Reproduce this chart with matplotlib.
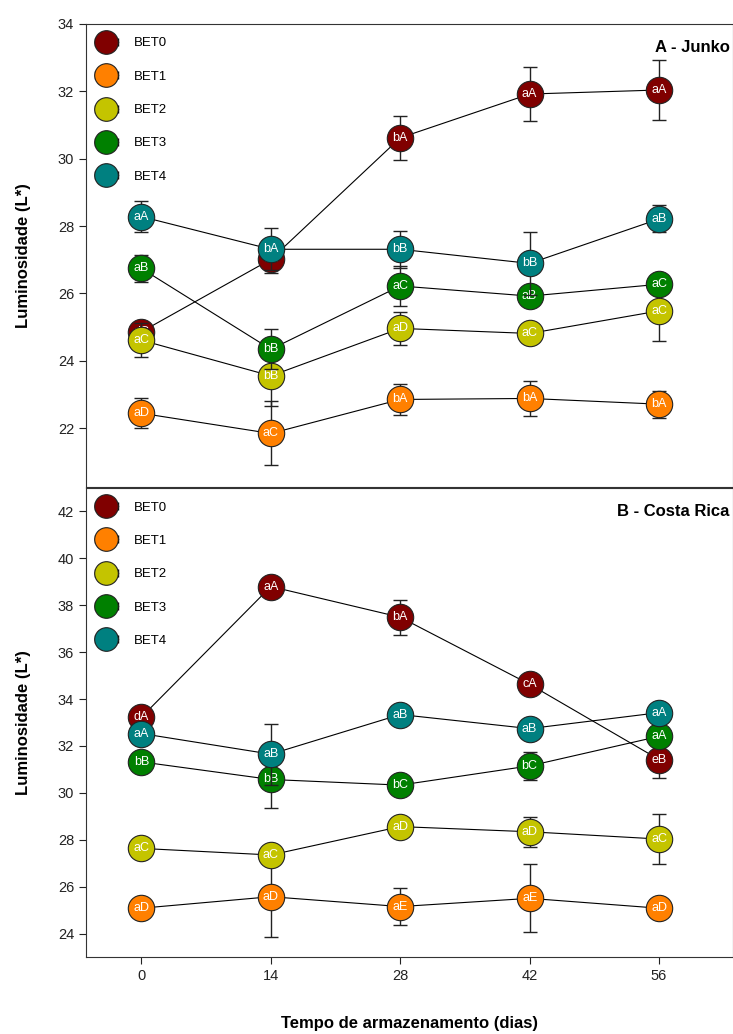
import numpy as np
import matplotlib
matplotlib.use("Agg")
import matplotlib.pyplot as plt
from matplotlib.lines import Line2D
from matplotlib.legend_handler import HandlerLine2D, HandlerTuple

plt.rcParams['font.family'] = ['Liberation Sans', 'DejaVu Sans']

dias = [0, 14, 28, 42, 56]
series = ["BET0", "BET1", "BET2", "BET3", "BET4"]
cores = ["#800000", "#FF8000", "#C4C400", "#008000", "#008080"]

# A - Junko
junko_val = [
    [24.86, 27.01, 30.62, 31.92, 32.04],
    [22.44, 21.84, 22.85, 22.88, 22.71],
    [24.61, 23.55, 24.96, 24.81, 25.48],
    [26.74, 24.34, 26.22, 25.92, 26.27],
    [28.28, 27.31, 27.31, 26.89, 28.21],
]
junko_err = [
    [0.20, 0.40, 0.65, 0.80, 0.88],
    [0.45, 0.95, 0.45, 0.52, 0.40],
    [0.50, 0.90, 0.50, 0.15, 0.90],
    [0.40, 0.60, 0.60, 0.20, 0.20],
    [0.45, 0.62, 0.55, 0.94, 0.40],
]
junko_let = [
    ["dC", "cA", "bA", "aA", "aA"],
    ["aD", "aC", "bA", "bA", "bA"],
    ["aC", "bB", "aD", "aC", "aC"],
    ["aB", "bB", "aC", "aB", "aC"],
    ["aA", "bA", "bB", "bB", "aB"],
]

# B - Costa Rica
costa_val = [
    [33.23, 38.80, 37.49, 34.63, 31.42],
    [25.08, 25.57, 25.15, 25.50, 25.08],
    [27.63, 27.35, 28.56, 28.34, 28.03],
    [31.32, 30.57, 30.33, 31.15, 32.41],
    [32.53, 31.65, 33.34, 32.74, 33.42],
]
costa_err = [
    [0.20, 0.20, 0.75, 0.20, 0.80],
    [0.20, 1.70, 0.80, 1.45, 0.20],
    [0.20, 0.20, 0.20, 0.65, 1.05],
    [0.20, 1.20, 0.20, 0.60, 0.20],
    [0.20, 1.30, 0.20, 0.20, 0.20],
]
costa_let = [
    ["dA", "aA", "bA", "cA", "eB"],
    ["aD", "aD", "aE", "aE", "aD"],
    ["aC", "aC", "aD", "aD", "aC"],
    ["bB", "bB", "bC", "bC", "aA"],
    ["aA", "aB", "aB", "aB", "aA"],
]


class CapLine(Line2D):
    pass


def painel(ax, vals, errs, lets, titulo, ylim, yticks):
    for i, (nome, cor) in enumerate(zip(series, cores)):
        ax.plot(dias, vals[i], "-", color="black", lw=0.8, zorder=1)
        ax.errorbar(dias, vals[i], yerr=errs[i], fmt="none", ecolor="#222222",
                    elinewidth=1, capsize=5, capthick=1, zorder=2 + 2 * i)
        ax.plot(dias, vals[i], "o", ms=19, mfc=cor, mec="#222222", mew=0.8,
                ls="none", zorder=3 + 2 * i)
        for x, y, t in zip(dias, vals[i], lets[i]):
            ax.text(x, y, t, ha="center", va="center", color="white",
                    fontsize=9, zorder=4 + 2 * i,
                    family=["Liberation Sans Narrow", "Liberation Sans"])
    ax.set_xlim(-6, 64)
    ax.set_ylim(*ylim)
    ax.set_yticks(yticks)
    ax.set_xticks(dias)
    ax.tick_params(direction="out", length=5, labelsize=10.5, colors="#222222")
    ax.set_ylabel("Luminosidade (L*)", fontsize=12, fontweight="bold")
    ax.text(0.995, 0.965, titulo, transform=ax.transAxes, ha="right", va="top",
            fontsize=12, fontweight="bold")
    for sp in ax.spines.values():
        sp.set_color("#333333")

    handles = []
    for cor in cores:
        caps = CapLine([], [], color="black", lw=1, marker="|", ms=6)
        dot = Line2D([], [], ls="none", marker="o", ms=17, mfc=cor,
                     mec="#222222", mew=0.8)
        handles.append((caps, dot))
    ax.legend(handles, series, loc="upper left", bbox_to_anchor=(-0.005, 0.99),
              frameon=False, fontsize=9.5, handlelength=2.3, handletextpad=0.9,
              labelspacing=1.6, borderaxespad=0.25,
              handler_map={CapLine: HandlerLine2D(numpoints=2),
                           Line2D: HandlerLine2D(numpoints=1),
                           tuple: HandlerTuple(ndivide=1)})


fig = plt.figure(figsize=(7.33, 10.34), dpi=100)
ax1 = fig.add_axes([0.1173, 0.529, 0.8827, 0.4478])
ax2 = fig.add_axes([0.1173, 0.0745, 0.8827, 0.4535])

painel(ax1, junko_val, junko_err, junko_let, "A - Junko",
       (20.25, 34), np.arange(22, 35, 2))
painel(ax2, costa_val, costa_err, costa_let, "B - Costa Rica",
       (23, 43), np.arange(24, 43, 2))

ax1.tick_params(axis="x", bottom=False, labelbottom=False)
ax1.yaxis.set_label_coords(-0.085, 0.5)
ax2.yaxis.set_label_coords(-0.085, 0.5)
ax2.set_xlabel("Tempo de armazenamento (dias)", fontsize=12,
               fontweight="bold", labelpad=24)

fig.savefig("out.png", dpi=100, facecolor="white")
